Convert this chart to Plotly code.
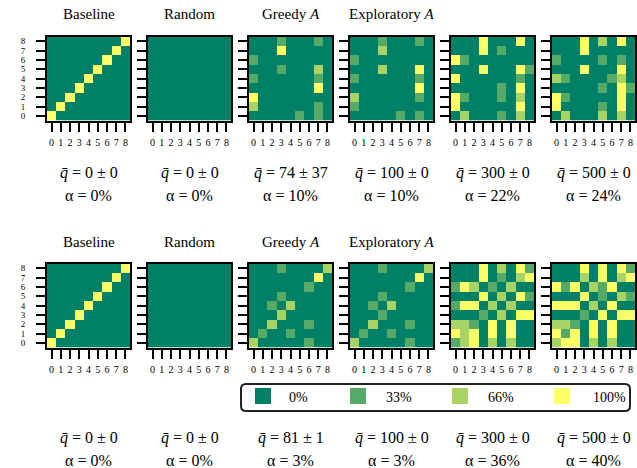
import plotly.graph_objects as go

# ---------------- data ----------------
titles_top = ["Baseline", "Random", "Greedy <i>A</i>", "Exploratory <i>A</i>", "", ""]
titles_bottom = ["Baseline", "Random", "Greedy <i>A</i>", "Exploratory <i>A</i>", "", ""]

q_mean_top = [0, 0, 74, 100, 300, 500]
q_std_top = [0, 0, 37, 0, 0, 0]
alpha_top = [0, 0, 10, 10, 22, 24]

q_mean_bottom = [0, 0, 81, 100, 300, 500]
q_std_bottom = [0, 0, 1, 0, 0, 0]
alpha_bottom = [0, 0, 3, 3, 36, 40]

tick_labels = ["0", "1", "2", "3", "4", "5", "6", "7", "8"]

legend_labels = ["0%", "33%", "66%", "100%"]
legend_values = [0, 33, 66, 100]

# matrices written top row (y=8) first, values in %
baseline = [
    [0, 0, 0, 0, 0, 0, 0, 0, 100],
    [0, 0, 0, 0, 0, 0, 0, 100, 0],
    [0, 0, 0, 0, 0, 0, 100, 0, 0],
    [0, 0, 0, 0, 0, 100, 0, 0, 0],
    [0, 0, 0, 0, 100, 0, 0, 0, 0],
    [0, 0, 0, 100, 0, 0, 0, 0, 0],
    [0, 0, 100, 0, 0, 0, 0, 0, 0],
    [0, 100, 0, 0, 0, 0, 0, 0, 0],
    [100, 0, 0, 0, 0, 0, 0, 0, 0],
]
random_m = [
    [0, 0, 0, 0, 0, 0, 0, 0, 0],
    [0, 0, 0, 0, 0, 0, 0, 0, 0],
    [0, 0, 0, 0, 0, 0, 0, 0, 0],
    [0, 0, 0, 0, 0, 0, 0, 0, 0],
    [0, 0, 0, 0, 0, 0, 0, 0, 0],
    [0, 0, 0, 0, 0, 0, 0, 0, 0],
    [0, 0, 0, 0, 0, 0, 0, 0, 0],
    [0, 0, 0, 0, 0, 0, 0, 0, 0],
    [0, 0, 0, 0, 0, 0, 0, 0, 0],
]
greedy_top = [
    [0, 0, 0, 33, 0, 0, 0, 33, 0],
    [0, 0, 0, 100, 0, 0, 0, 0, 0],
    [33, 0, 0, 0, 0, 0, 0, 0, 0],
    [0, 0, 0, 33, 0, 0, 0, 66, 0],
    [33, 0, 0, 0, 0, 0, 0, 33, 0],
    [0, 0, 0, 0, 0, 0, 0, 100, 0],
    [100, 0, 0, 0, 0, 0, 0, 0, 0],
    [66, 0, 0, 0, 0, 0, 0, 33, 0],
    [0, 0, 0, 0, 0, 33, 0, 33, 0],
]
explor_top = [
    [0, 0, 0, 33, 0, 0, 0, 33, 0],
    [0, 0, 0, 66, 0, 0, 0, 0, 0],
    [33, 0, 0, 0, 0, 0, 0, 0, 0],
    [0, 0, 0, 66, 0, 0, 0, 100, 0],
    [33, 0, 0, 0, 0, 0, 0, 33, 0],
    [0, 0, 0, 0, 0, 0, 0, 100, 0],
    [66, 0, 0, 0, 0, 0, 0, 33, 0],
    [33, 0, 0, 0, 0, 0, 0, 0, 0],
    [0, 0, 0, 0, 0, 33, 0, 33, 0],
]
q300_top = [
    [0, 0, 0, 100, 0, 0, 0, 100, 0],
    [0, 0, 0, 100, 0, 33, 0, 0, 0],
    [100, 33, 0, 0, 0, 0, 0, 0, 0],
    [0, 0, 0, 100, 0, 0, 0, 100, 33],
    [100, 0, 0, 0, 0, 0, 0, 33, 0],
    [0, 0, 0, 0, 0, 33, 0, 100, 0],
    [100, 33, 0, 0, 0, 33, 0, 66, 0],
    [100, 0, 0, 0, 0, 0, 0, 100, 0],
    [0, 66, 0, 0, 0, 33, 0, 66, 0],
]
q500_top = [
    [0, 0, 0, 100, 0, 66, 0, 100, 0],
    [0, 0, 0, 100, 0, 0, 0, 0, 0],
    [33, 0, 0, 0, 0, 33, 0, 33, 0],
    [0, 0, 0, 100, 0, 0, 0, 100, 0],
    [66, 33, 0, 0, 0, 0, 33, 66, 0],
    [0, 0, 0, 0, 0, 33, 0, 100, 33],
    [100, 33, 0, 0, 0, 0, 0, 100, 0],
    [100, 0, 0, 0, 0, 33, 0, 100, 0],
    [0, 66, 0, 0, 0, 66, 0, 66, 0],
]
greedy_bottom = [
    [0, 0, 0, 33, 0, 0, 0, 0, 66],
    [0, 0, 0, 0, 0, 0, 0, 100, 0],
    [0, 0, 0, 0, 0, 0, 33, 0, 0],
    [0, 0, 0, 33, 0, 0, 0, 0, 0],
    [0, 0, 33, 0, 66, 0, 0, 0, 0],
    [0, 0, 0, 66, 0, 0, 0, 0, 0],
    [0, 0, 66, 0, 0, 0, 33, 0, 0],
    [0, 33, 0, 0, 33, 0, 0, 0, 0],
    [66, 0, 0, 0, 0, 0, 33, 0, 0],
]
explor_bottom = [
    [0, 0, 0, 33, 0, 0, 0, 0, 66],
    [0, 0, 0, 0, 0, 0, 0, 100, 0],
    [0, 0, 0, 0, 0, 0, 33, 0, 0],
    [0, 0, 0, 33, 0, 0, 0, 0, 0],
    [0, 0, 33, 0, 66, 0, 0, 0, 0],
    [0, 0, 0, 33, 0, 0, 0, 0, 0],
    [0, 0, 66, 0, 0, 0, 33, 0, 0],
    [0, 33, 0, 0, 33, 0, 0, 0, 0],
    [66, 0, 0, 0, 0, 0, 33, 0, 0],
]
q300_bottom = [
    [0, 0, 0, 100, 0, 66, 0, 100, 33],
    [0, 0, 0, 100, 0, 33, 0, 66, 100],
    [33, 100, 66, 0, 33, 0, 66, 0, 0],
    [0, 0, 0, 100, 0, 66, 0, 100, 33],
    [33, 100, 100, 0, 66, 0, 66, 0, 0],
    [0, 0, 0, 33, 0, 66, 0, 100, 100],
    [66, 66, 33, 0, 100, 0, 100, 0, 0],
    [100, 66, 100, 0, 100, 0, 100, 0, 0],
    [33, 66, 100, 0, 66, 0, 66, 0, 0],
]
q500_bottom = [
    [0, 0, 0, 100, 0, 100, 0, 100, 33],
    [0, 0, 0, 66, 0, 100, 0, 66, 100],
    [100, 33, 100, 0, 66, 33, 100, 0, 0],
    [0, 0, 0, 100, 0, 33, 0, 66, 33],
    [100, 100, 100, 0, 66, 0, 100, 0, 0],
    [0, 0, 0, 33, 0, 100, 0, 100, 100],
    [66, 66, 33, 0, 100, 0, 100, 0, 0],
    [100, 33, 100, 0, 100, 0, 100, 0, 0],
    [66, 100, 100, 0, 66, 0, 66, 0, 0],
]

matrices_top = [baseline, random_m, greedy_top, explor_top, q300_top, q500_top]
matrices_bottom = [baseline, random_m, greedy_bottom, explor_bottom, q300_bottom, q500_bottom]

# ---------------- layout ----------------
W, H = 637, 468
FONT = "Liberation Serif"
C0, C1 = "#008066", "#ffff66"
colorscale = [[0, C0], [1, C1]]

panel_x0 = [47, 148, 249, 350, 451, 552]
panel_w = 83
row_y0 = [36.5, 263.5]   # top pixel of heatmaps
panel_h = 84
title_y = [14, 242]
q_y = [173, 438]
a_y = [195, 460]


def px(x):
    return x / W


def py(y):
    return 1 - y / H


fig = go.Figure()
layout = {}
annotations = []
shapes = []

rows = [
    (matrices_top, titles_top, q_mean_top, q_std_top, alpha_top),
    (matrices_bottom, titles_bottom, q_mean_bottom, q_std_bottom, alpha_bottom),
]

idx = 0
for r, (mats, titles, qm, qs, al) in enumerate(rows):
    for c in range(6):
        idx += 1
        xa = "x" if idx == 1 else f"x{idx}"
        ya = "y" if idx == 1 else f"y{idx}"
        z = list(reversed(mats[c]))  # bottom row first
        fig.add_trace(go.Heatmap(
            z=z, x=list(range(9)), y=list(range(9)),
            colorscale=colorscale, zmin=0, zmax=100, showscale=False,
            xaxis=xa, yaxis=ya, hoverinfo="skip",
        ))
        x0 = panel_x0[c]
        y0 = row_y0[r]
        axcommon = dict(
            range=[-0.5, 8.5], tickvals=list(range(9)), ticktext=tick_labels,
            ticks="outside", ticklen=9, tickwidth=2, tickcolor="black",
            showline=True, mirror=True, linecolor="black", linewidth=2,
            showgrid=False, zeroline=False, fixedrange=True,
            tickfont=dict(family=FONT, size=10, color="black"),
        )
        layout["xaxis" if idx == 1 else f"xaxis{idx}"] = dict(
            axcommon, domain=[px(x0), px(x0 + panel_w)], anchor=ya,
            ticklabelstandoff=2,
        )
        layout["yaxis" if idx == 1 else f"yaxis{idx}"] = dict(
            axcommon, domain=[py(y0 + panel_h), py(y0)], anchor=xa,
            showticklabels=(c == 0), ticklabelstandoff=9,
            tickfont=dict(family=FONT, size=9, color="black"),
        )
        cx = px(x0 + panel_w / 2)
        if titles[c]:
            annotations.append(dict(
                x=cx, y=py(title_y[r]), xref="paper", yref="paper",
                text=titles[c], showarrow=False, xanchor="center", yanchor="middle",
                font=dict(family=FONT, size=15, color="black"),
            ))
        annotations.append(dict(
            x=cx, y=py(q_y[r]), xref="paper", yref="paper",
            text=f"<i>q\u0304</i> = {qm[c]} \u00b1 {qs[c]}", showarrow=False,
            xanchor="center", yanchor="middle",
            font=dict(family=FONT, size=16, color="black"),
        ))
        annotations.append(dict(
            x=cx, y=py(a_y[r]), xref="paper", yref="paper",
            text=f"\u03b1 = {al[c]}%", showarrow=False,
            xanchor="center", yanchor="middle",
            font=dict(family=FONT, size=16, color="black"),
        ))

# ---------------- legend box ----------------
bx0, bx1, by0, by1, rad = 241, 630, 384, 411, 5
path = (
    f"M {px(bx0 + rad)} {py(by0)} L {px(bx1 - rad)} {py(by0)} "
    f"Q {px(bx1)} {py(by0)} {px(bx1)} {py(by0 + rad)} "
    f"L {px(bx1)} {py(by1 - rad)} Q {px(bx1)} {py(by1)} {px(bx1 - rad)} {py(by1)} "
    f"L {px(bx0 + rad)} {py(by1)} Q {px(bx0)} {py(by1)} {px(bx0)} {py(by1 - rad)} "
    f"L {px(bx0)} {py(by0 + rad)} Q {px(bx0)} {py(by0)} {px(bx0 + rad)} {py(by0)} Z"
)
shapes.append(dict(type="path", path=path, xref="paper", yref="paper",
                   line=dict(color="#222222", width=2), fillcolor="white"))

sq_x = [255, 350, 452, 554]
txt_x = [298, 399, 501, 609]


def lerp_color(v):
    a = (0x00, 0x80, 0x66)
    b = (0xff, 0xff, 0x66)
    t = v / 100
    return "rgb({},{},{})".format(*[round(a[i] + (b[i] - a[i]) * t) for i in range(3)])


for i, (lab, val) in enumerate(zip(legend_labels, legend_values)):
    shapes.append(dict(type="rect", xref="paper", yref="paper",
                       x0=px(sq_x[i]), x1=px(sq_x[i] + 16), y0=py(404), y1=py(388),
                       line=dict(width=0), fillcolor=lerp_color(val)))
    annotations.append(dict(
        x=px(txt_x[i]), y=py(397), xref="paper", yref="paper", text=lab,
        showarrow=False, xanchor="center", yanchor="middle",
        font=dict(family=FONT, size=14, color="black"),
    ))

fig.update_layout(
    width=W, height=H, margin=dict(l=0, r=0, t=0, b=0),
    paper_bgcolor="white", plot_bgcolor="white",
    showlegend=False, annotations=annotations, shapes=shapes,
    **layout,
)

fig.write_html("out.html", config={"displayModeBar": False},
               post_script="document.body.style.margin='0';")
